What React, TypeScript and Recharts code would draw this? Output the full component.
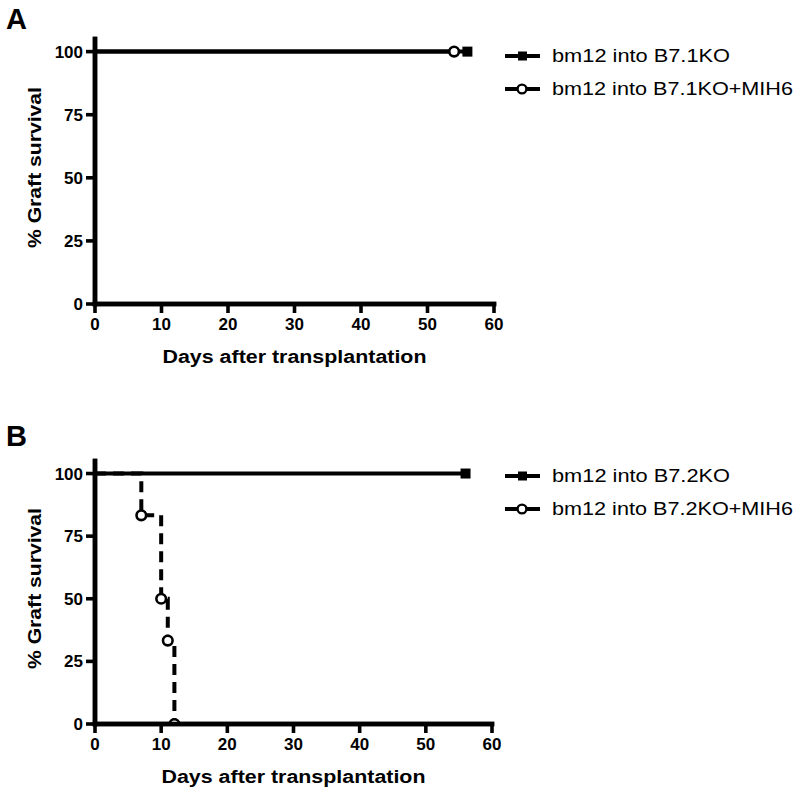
import React from 'react';
import { LineChart, Line, XAxis, YAxis, Legend, Label } from 'recharts';

// ---- data ----
const dayTicks = [0, 10, 20, 30, 40, 50, 60];
const survivalTicks = [0, 25, 50, 75, 100];

const panelALabels = ['bm12 into B7.1KO', 'bm12 into B7.1KO+MIH6'];
const panelBLabels = ['bm12 into B7.2KO', 'bm12 into B7.2KO+MIH6'];

const a1Days = [0, 56];
const a1Survival = [100, 100];
const a1Marked = [false, true];

const a2Days = [0, 54];
const a2Survival = [100, 100];
const a2Marked = [false, true];

const b1Days = [0, 56];
const b1Survival = [100, 100];
const b1Marked = [false, true];

const b2Days = [0, 7, 10, 11, 12];
const b2Survival = [100, 83.3, 50, 33.3, 0];
const b2Marked = [false, true, true, true, true];

const xTitle = 'Days after transplantation';
const yTitle = '% Graft survival';

type Row = { day: number; survival: number; marked: boolean };
const build = (d: number[], s: number[], m: boolean[]): Row[] =>
  d.map((day, i) => ({ day, survival: s[i], marked: m[i] }));

const a1 = build(a1Days, a1Survival, a1Marked);
const a2 = build(a2Days, a2Survival, a2Marked);
const b1 = build(b1Days, b1Survival, b1Marked);
const b2 = build(b2Days, b2Survival, b2Marked);

const FONT = '"Liberation Sans", Arial, sans-serif';
const TICK_SIZE = 9;
const X_MARGIN = 5;
const Y_MARGIN = 3;
const AXIS_W = 4.5;

const squareDot = (props: any) => {
  const { cx, cy, payload, index } = props;
  if (!payload || !payload.marked) return <g key={`sq-${index}`} />;
  return <rect key={`sq-${index}`} x={cx - 5} y={cy - 5} width={10} height={10} fill="#000" />;
};

const circleDot = (props: any) => {
  const { cx, cy, payload, index } = props;
  if (!payload || !payload.marked) return <g key={`ci-${index}`} />;
  return <circle key={`ci-${index}`} cx={cx} cy={cy} r={4.8} fill="#fff" stroke="#000" strokeWidth={2.6} />;
};

const XTick = (props: any) => {
  const { x, y, payload, index, width } = props;
  const axisY = y - TICK_SIZE - X_MARGIN;
  const showAxis = index === 0 && typeof width === 'number' && isFinite(width);
  return (
    <g>
      {showAxis ? (
        <line
          x1={x}
          x2={x + width}
          y1={axisY}
          y2={axisY}
          stroke="#000"
          strokeWidth={AXIS_W}
          strokeLinecap="square"
        />
      ) : null}
      <line x1={x} x2={x} y1={axisY} y2={axisY + TICK_SIZE} stroke="#000" strokeWidth={3.6} />
      <text
        x={x}
        y={y + 12}
        textAnchor="middle"
        fontFamily={FONT}
        fontWeight="bold"
        fontSize={17}
        fill="#000"
      >
        {payload.value}
      </text>
    </g>
  );
};

const YTick = (props: any) => {
  const { x, y, payload, index, height } = props;
  const axisX = x + TICK_SIZE + Y_MARGIN;
  const showAxis = index === 0 && typeof height === 'number' && isFinite(height);
  return (
    <g>
      {showAxis ? (
        <line
          x1={axisX}
          x2={axisX}
          y1={y}
          y2={y - height}
          stroke="#000"
          strokeWidth={AXIS_W}
          strokeLinecap="square"
        />
      ) : null}
      <line x1={axisX - TICK_SIZE} x2={axisX} y1={y} y2={y} stroke="#000" strokeWidth={3.6} />
      <text
        x={x}
        y={y + 6}
        textAnchor="end"
        fontFamily={FONT}
        fontWeight="bold"
        fontSize={17}
        fill="#000"
      >
        {payload.value}
      </text>
    </g>
  );
};

const LegendBox = ({ labels, widths }: { labels: string[]; widths: number[] }) => (
  <svg width={300} height={110} style={{ display: 'block' }}>
    {labels.map((lab, i) => {
      const y = 56 + i * 33;
      return (
        <g key={lab}>
          <line x1={5} x2={40} y1={y} y2={y} stroke="#000" strokeWidth={4} />
          {i === 0 ? (
            <rect x={18} y={y - 4.5} width={9} height={9} fill="#000" />
          ) : (
            <circle cx={22} cy={y} r={4.4} fill="#fff" stroke="#000" strokeWidth={2.4} />
          )}
          <text
            x={52}
            y={y + 6}
            fontFamily={FONT}
            fontSize={17.5}
            fill="#000"
            textLength={widths[i]}
            lengthAdjust="spacingAndGlyphs"
          >
            {lab}
          </text>
        </g>
      );
    })}
  </svg>
);

const XTitle = (props: any) => {
  const vb = props.viewBox || {};
  return (
    <text
      x={vb.x + vb.width / 2}
      y={vb.y + 59}
      textAnchor="middle"
      fontFamily={FONT}
      fontWeight="bold"
      fontSize={18}
      fill="#000"
      textLength={264}
      lengthAdjust="spacingAndGlyphs"
    >
      {xTitle}
    </text>
  );
};

const YTitle = (props: any) => {
  const vb = props.viewBox || {};
  const cx = 41;
  const cy = vb.y + vb.height / 2 - 4;
  return (
    <text
      x={cx}
      y={cy}
      transform={`rotate(-90, ${cx}, ${cy})`}
      textAnchor="middle"
      fontFamily={FONT}
      fontWeight="bold"
      fontSize={18}
      fill="#000"
      textLength={161}
      lengthAdjust="spacingAndGlyphs"
    >
      {yTitle}
    </text>
  );
};

const axisLineStyle = { stroke: '#000', strokeWidth: AXIS_W, strokeLinecap: 'square' } as any;

const Panel = ({
  height,
  top,
  right,
  children,
  labels,
}: {
  height: number;
  top: number;
  right: number;
  children: React.ReactNode;
  labels: string[];
}) => (
  <LineChart
    width={800}
    height={height}
    margin={{ top, left: 35, right, bottom: height - 304 - 70 }}
  >
    <XAxis
      type="number"
      dataKey="day"
      domain={[0, 60]}
      ticks={dayTicks}
      interval={0}
      height={70}
      tickSize={TICK_SIZE}
      tickMargin={X_MARGIN}
      tick={<XTick />}
      stroke="#000"
      strokeWidth={AXIS_W}
      axisLine={axisLineStyle}
      tickLine={false}
      allowDataOverflow
    >
      <Label content={<XTitle />} />
    </XAxis>
    <YAxis
      type="number"
      domain={[0, 105]}
      ticks={survivalTicks}
      interval={0}
      width={60}
      tickSize={TICK_SIZE}
      tickMargin={Y_MARGIN}
      tick={<YTick />}
      stroke="#000"
      strokeWidth={AXIS_W}
      axisLine={axisLineStyle}
      tickLine={false}
      allowDataOverflow
    >
      <Label content={<YTitle />} />
    </YAxis>
    <Legend
      layout="vertical"
      align="center"
      verticalAlign="middle"
      wrapperStyle={{ left: 500, top: 0, width: 300, height: 110 }}
      content={() => <LegendBox labels={labels} widths={[178, 241]} />}
    />
    {children}
  </LineChart>
);

export default function App() {
  return (
    <div
      style={{
        position: 'absolute',
        left: 0,
        top: 0,
        width: 800,
        height: 798,
        background: '#fff',
        fontFamily: FONT,
      }}
    >
      <svg width={40} height={40} style={{ position: 'absolute', left: 0, top: 0 }}>
        <text x={6} y={29} fontFamily={FONT} fontWeight="bold" fontSize={29} fill="#000">
          A
        </text>
      </svg>
      <div style={{ position: 'absolute', left: 0, top: 0 }}>
        <Panel height={400} top={39} right={306} labels={panelALabels}>
          <Line
            data={a1}
            dataKey="survival"
            name={panelALabels[0]}
            type="linear"
            stroke="#000"
            strokeWidth={4}
            dot={squareDot}
            activeDot={false}
            isAnimationActive={false}
          />
          <Line
            data={a2}
            dataKey="survival"
            name={panelALabels[1]}
            type="linear"
            stroke="#000"
            strokeWidth={4}
            dot={circleDot}
            activeDot={false}
            isAnimationActive={false}
          />
        </Panel>
      </div>
      <svg width={40} height={40} style={{ position: 'absolute', left: 0, top: 420 }}>
        <text x={6} y={26} fontFamily={FONT} fontWeight="bold" fontSize={29} fill="#000">
          B
        </text>
      </svg>
      <div style={{ position: 'absolute', left: 0, top: 420 }}>
        <Panel height={378} top={41} right={308} labels={panelBLabels}>
          <Line
            data={b2}
            dataKey="survival"
            name={panelBLabels[1]}
            type="stepAfter"
            stroke="#000"
            strokeWidth={4}
            strokeDasharray="11 7"
            dot={circleDot}
            activeDot={false}
            isAnimationActive={false}
          />
          <Line
            data={b1}
            dataKey="survival"
            name={panelBLabels[0]}
            type="linear"
            stroke="#000"
            strokeWidth={4}
            dot={squareDot}
            activeDot={false}
            isAnimationActive={false}
          />
        </Panel>
      </div>
    </div>
  );
}
